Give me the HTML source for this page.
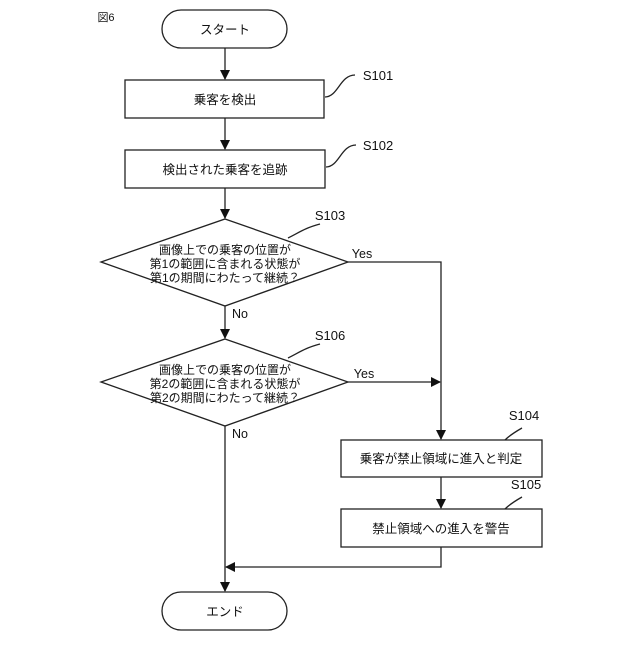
<!DOCTYPE html>
<html><head><meta charset="utf-8"><style>
html,body{margin:0;padding:0;background:#fff}
svg text{font-family:"Liberation Sans","Noto Sans CJK JP",sans-serif;fill:#111}
</style></head><body>
<svg width="640" height="640" viewBox="0 0 640 640" xmlns="http://www.w3.org/2000/svg">
<defs><marker id="a" markerWidth="10" markerHeight="10" refX="9" refY="5" orient="auto" markerUnits="userSpaceOnUse"><path d="M0,0 L10,5 L0,10 z" fill="#111"/></marker></defs>
<g stroke="#222" stroke-width="1.3" fill="none">
<rect x="162" y="10" width="125" height="38" rx="19"/>
<rect x="125" y="80" width="199" height="38"/>
<rect x="125" y="150" width="200" height="38"/>
<polygon points="225,219 348,262 225,306 101,262"/>
<polygon points="225,339 348,382 225,426 101,382"/>
<rect x="341" y="440" width="201" height="37"/>
<rect x="341" y="509" width="201" height="38"/>
<rect x="162" y="592" width="125" height="38" rx="19"/>
<line x1="225" y1="48" x2="225" y2="79" marker-end="url(#a)"/>
<line x1="225" y1="118" x2="225" y2="149" marker-end="url(#a)"/>
<line x1="225" y1="188" x2="225" y2="218" marker-end="url(#a)"/>
<line x1="225" y1="306" x2="225" y2="338" marker-end="url(#a)"/>
<line x1="225" y1="426" x2="225" y2="591" marker-end="url(#a)"/>
<polyline points="348,262 441,262 441,439" marker-end="url(#a)"/>
<line x1="348" y1="382" x2="440" y2="382" marker-end="url(#a)"/>
<line x1="441" y1="477" x2="441" y2="508" marker-end="url(#a)"/>
<polyline points="441,547 441,567 226,567" marker-end="url(#a)"/>
<path d="M325,97 C338,97 340,75 355,75"/>
<path d="M326,167 C339,167 341,145 356,145"/>
<path d="M288,238 C300,232 305,228 320,224"/>
<path d="M288,358 C300,352 305,348 320,344"/>
<path d="M505,440 C510,435 515,432 522,428"/>
<path d="M505,509 C510,504 515,501 522,497"/>
</g>
<g font-size="12.5" text-anchor="middle">
<text x="106" y="21" font-size="11">図6</text>
<text x="225" y="34">スタート</text>
<text x="225" y="104">乗客を検出</text>
<text x="225" y="174">検出された乗客を追跡</text>
<text x="225" y="254" font-size="12">画像上での乗客の位置が</text>
<text x="225" y="268" font-size="12">第1の範囲に含まれる状態が</text>
<text x="225" y="282" font-size="12">第1の期間にわたって継続？</text>
<text x="225" y="374" font-size="12">画像上での乗客の位置が</text>
<text x="225" y="388" font-size="12">第2の範囲に含まれる状態が</text>
<text x="225" y="402" font-size="12">第2の期間にわたって継続？</text>
<text x="441" y="463">乗客が禁止領域に進入と判定</text>
<text x="441" y="533">禁止領域への進入を警告</text>
<text x="225" y="616">エンド</text>
<text x="378" y="80" font-size="13">S101</text>
<text x="378" y="150" font-size="13">S102</text>
<text x="330" y="220" font-size="13">S103</text>
<text x="330" y="340" font-size="13">S106</text>
<text x="524" y="420" font-size="13">S104</text>
<text x="526" y="489" font-size="13">S105</text>
<text x="362" y="258">Yes</text>
<text x="364" y="378">Yes</text>
<text x="240" y="318">No</text>
<text x="240" y="438">No</text>
</g>
</svg>
</body></html>
